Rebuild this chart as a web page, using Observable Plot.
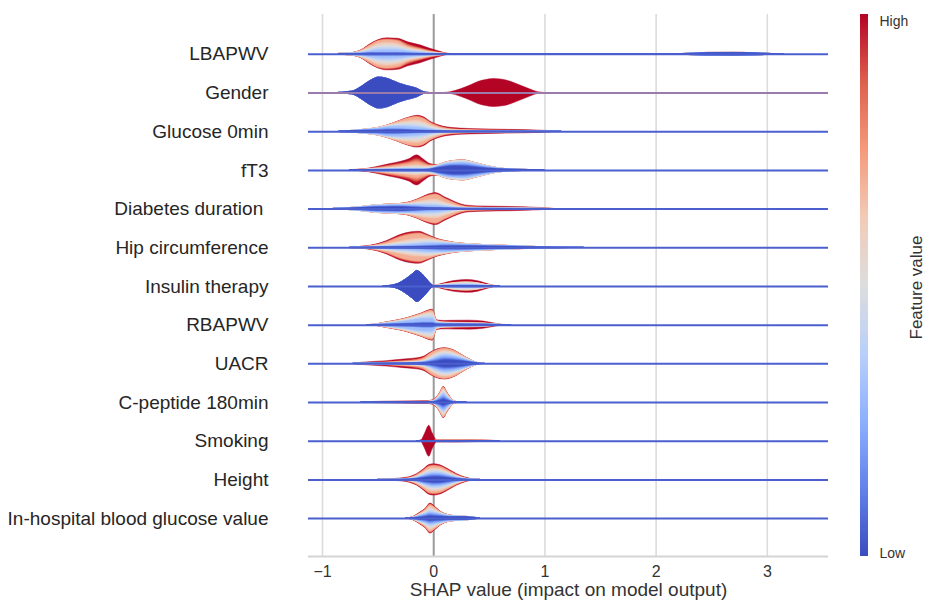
<!DOCTYPE html>
<html><head><meta charset="utf-8">
<script src="https://cdn.jsdelivr.net/npm/d3@7"></script>
<script src="https://cdn.jsdelivr.net/npm/@observablehq/plot@0.6"></script>
<style>
body{margin:0;background:#fff;font-family:"Liberation Sans",Arial,sans-serif;}
#wrap{position:relative;width:925px;height:606px;}
#main{position:absolute;left:0;top:0;}
#cbar{position:absolute;left:850px;top:0;}
</style></head><body><div id="wrap"><div id="main"></div><div id="cbar"></div></div>
<script>
const features = ["LBAPWV","Gender","Glucose 0min","fT3","Diabetes duration ","Hip circumference","Insulin therapy","RBAPWV","UACR","C-peptide 180min","Smoking","Height","In-hospital blood glucose value"];
const xTicks = [-1,0,1,2,3];
// rows: [SHAP value, density of lowest..highest feature-value layer (blue, light blue, neutral, salmon, red)]
const LBAPWV = [[-0.85,0.3,0.2,0,0,0],[-0.75,0.4,0.3,0.2,0.1,0],[-0.65,0.6,1,1,1,0.4],[-0.57,1,2.5,2.5,3,1],[-0.5,1,4,4,4,1],[-0.42,1,4.5,4.5,4.5,1.5],[-0.32,1,4,4,4.5,2],[-0.23,0.8,2.5,2.5,3,3.2],[-0.12,0.5,1.5,1.5,2,3.5],[-0.03,0.3,0.7,0.7,1.3,2.5],[0.06,0.2,0.2,0.3,0.6,1.2],[0.13,0.1,0,0.1,0.1,0.2],[0.25,0,0,0,0,0],[2.15,0,0,0,0,0],[2.3,0.6,0.1,0,0,0],[2.45,1.2,0.2,0,0,0],[2.7,1.3,0.2,0,0,0],[2.9,1,0.1,0,0,0],[3.05,0.3,0,0,0,0],[3.15,0,0,0,0,0]];
const Gender = [[-0.85,0.3,0,0,0,0],[-0.73,1.5,0,0,0,0],[-0.65,6,0,0,0,0],[-0.57,12,0,0,0,0],[-0.49,15.5,0,0,0,0],[-0.41,14,0,0,0,0],[-0.36,11.7,0,0,0,0],[-0.3,9,0,0,0,0],[-0.24,7,0,0,0,0],[-0.15,4.3,0,0,0,0],[-0.09,1,0,0,0,0],[-0.03,0,0,0,0,0],[0.08,0,0,0,0,0],[0.15,0,0,0,0,0.8],[0.25,0,0,0,0,4],[0.33,0,0,0,0,7.5],[0.4,0,0,0,0,11],[0.47,0,0,0,0,13],[0.54,0,0,0,0,14],[0.62,0,0,0,0,13.3],[0.7,0,0,0,0,11],[0.78,0,0,0,0,7.5],[0.87,0,0,0,0,3.5],[0.94,0,0,0,0,0.8],[1.02,0,0,0,0,0]];
const Glucose0 = [[-0.85,0.3,0,0,0,0],[-0.72,0.7,0.2,0,0,0],[-0.6,1.2,0.8,0.2,0,0],[-0.5,1.5,1.5,0.5,0.2,0],[-0.42,2,2.5,1,0.5,0],[-0.34,2,3.5,2,1.5,0.2],[-0.27,1.8,4,3,3,0.5],[-0.2,1.5,4,4,4.5,0.8],[-0.15,1.2,4,4.5,5,1.2],[-0.08,1,3,4,4.5,1.5],[-0.03,0.8,2,3,3,1.2],[0.03,0.6,1,2,2.2,1.2],[0.09,0.5,0.5,1.2,1.5,1.3],[0.17,0.3,0.3,0.7,1,1.4],[0.24,0.3,0.2,0.5,0.8,1.3],[0.4,0.3,0.1,0.3,0.6,1.2],[0.6,0.2,0.1,0.2,0.5,1],[0.85,0.2,0,0.1,0.4,0.8],[1.02,0.1,0,0.1,0.2,0.4],[1.15,0,0,0,0,0]];
const fT3 = [[-0.75,0.2,0,0,0,0.1],[-0.6,0.3,0.2,0.2,0.3,0.5],[-0.5,0.4,0.4,0.6,1,1.2],[-0.4,0.5,0.6,1,2,2],[-0.3,0.6,0.8,1.5,3,2.5],[-0.22,0.6,1,2,4,3.5],[-0.15,0.6,1,2.5,5.5,5.5],[-0.09,0.6,0.8,2,4,3.5],[-0.03,1,0.8,1.5,1.5,1.5],[0.03,2.5,1.2,0.8,0.4,0.3],[0.1,4,2.2,1,0.2,0.1],[0.18,5,2.5,1.5,0.3,0.1],[0.27,5,3,1.5,0.3,0.1],[0.36,4,2.5,1,0.2,0.1],[0.48,2.3,1.5,0.5,0.1,0],[0.58,1.3,0.6,0.2,0,0],[0.7,0.8,0.2,0,0,0],[0.9,0.3,0,0,0,0],[1,0,0,0,0,0]];
const DiabetesDuration = [[-0.9,0.3,0,0,0,0],[-0.78,0.6,0.2,0,0,0],[-0.65,1.2,0.6,0.2,0,0],[-0.52,2,1.2,0.4,0.1,0],[-0.42,2.2,1.5,0.5,0.2,0],[-0.32,2.4,1.6,0.6,0.3,0.1],[-0.24,2.2,1.8,1,0.8,0.3],[-0.15,1.8,2.5,2,2.5,0.6],[-0.06,1.2,3,3.5,5,1.2],[0.02,1,3,4,6.5,1.5],[0.1,0.8,2,3,4.5,1.5],[0.18,0.6,1,1.7,3,1.4],[0.25,0.4,0.4,0.8,1.7,1.3],[0.32,0.3,0.2,0.4,1,1.3],[0.45,0.3,0.1,0.3,0.7,1.2],[0.7,0.2,0.1,0.2,0.5,1.1],[0.95,0.2,0,0.1,0.3,0.6],[1.1,0,0,0,0,0]];
const HipCircumference = [[-0.75,0.2,0,0,0.1,0.1],[-0.6,0.3,0.2,0.2,0.4,0.4],[-0.5,0.5,0.5,0.7,1.2,0.8],[-0.42,0.6,1,1.3,2.5,1.3],[-0.3,0.8,2,2.5,5.5,1.9],[-0.2,1,2.5,3.5,6.5,2],[-0.13,1.2,3,3.5,6.5,1.8],[-0.05,1.5,3.5,3,3.5,1.3],[0.03,1.8,3,2,1.5,0.7],[0.1,2,2.5,1.2,0.8,0.4],[0.18,2,1.8,0.7,0.4,0.2],[0.32,1.8,1.2,0.4,0.1,0.1],[0.5,1.4,0.7,0.3,0.1,0],[0.75,1,0.4,0.1,0,0],[0.95,0.5,0.2,0,0,0],[1.25,0.2,0,0,0,0],[1.35,0,0,0,0,0]];
const InsulinTherapy = [[-0.45,0,0,0,0,0],[-0.38,0.8,0,0,0,0],[-0.32,2.5,0,0,0,0],[-0.25,7,0,0,0,0],[-0.19,12,0,0,0,0],[-0.15,15.5,0,0,0,0],[-0.1,12,0,0,0,0],[-0.06,7,0,0,0,0],[-0.02,2,0,0,0,0],[0,0.5,0,0,0,0],[0.04,0.3,0.2,0.3,0.1,0.6],[0.12,0.5,0.6,1,0.3,1.5],[0.2,0.6,1,1.5,0.5,2],[0.3,0.6,1.2,1.8,0.6,2.2],[0.4,0.5,1,1.3,0.4,2],[0.47,0.3,0.4,0.6,0.2,1.4],[0.54,0.2,0.1,0.1,0,0.4],[0.6,0,0,0,0,0]];
const RBAPWV = [[-0.6,0,0,0,0,0],[-0.52,0.2,0.2,0.1,0.1,0.1],[-0.44,0.5,0.8,0.5,0.4,0.2],[-0.36,0.8,1.5,0.8,0.6,0.3],[-0.27,1.2,2.5,1.2,0.8,0.3],[-0.18,1.5,4,2,1.1,0.4],[-0.1,2,5,3,1.5,0.5],[-0.04,2,5.5,4,2.5,0.8],[-0.01,2,5.5,4,3,1],[0.03,1,1.5,0.8,0.7,0.8],[0.1,0.8,0.8,0.5,0.6,1.5],[0.2,0.8,0.6,0.4,0.6,2],[0.32,0.7,0.5,0.4,0.6,2.3],[0.45,0.6,0.4,0.3,0.5,1.8],[0.55,0.3,0.2,0.1,0.2,0.8],[0.62,0.1,0,0,0,0.2],[0.7,0,0,0,0,0]];
const UACR = [[-0.72,0.2,0,0,0,0.2],[-0.57,0.3,0,0.1,0.3,1],[-0.42,0.4,0.1,0.2,0.6,1.4],[-0.27,0.5,0.3,0.4,1.2,1.9],[-0.15,0.7,0.5,0.7,1.8,1.8],[-0.08,1.2,1,1.3,2.5,1.5],[-0.03,2,2,2.5,3.5,1],[0.03,3.5,3.5,3,3.5,0.8],[0.1,5,4,3,3,0.7],[0.18,4.5,3.5,2.5,2.5,0.5],[0.27,3,2,1.3,1.2,0.2],[0.34,1.5,1,0.5,0.3,0.1],[0.4,0.5,0.2,0.1,0,0],[0.46,0,0,0,0,0]];
const CPeptide180 = [[-0.65,0,0,0,0,0],[-0.57,0.1,0,0,0.1,0.3],[-0.3,0.2,0,0.1,0.2,0.5],[-0.06,0.3,0.1,0.1,0.3,0.6],[0,0.6,0.5,0.3,0.5,0.5],[0.03,1.5,1.5,1,1,0.5],[0.06,3,3,2,1.5,0.5],[0.09,4.5,4.5,3.5,2.5,0.7],[0.12,3,3,2,1.7,0.5],[0.15,1.5,1.5,1,1,0.4],[0.18,0.6,0.4,0.3,0.3,0.2],[0.22,0.3,0,0,0,0],[0.3,0,0,0,0,0]];
const Smoking = [[-0.15,0,0,0,0,0],[-0.11,0,0,0,0,1],[-0.08,0,0,0,0,7],[-0.04,0,0,0,0,15.5],[-0.01,0,0,0,0,8],[0.03,0.2,0,0.2,0.3,0.5],[0.2,0.2,0,0.2,0.4,0.4],[0.4,0.1,0,0.2,0.3,0.2],[0.54,0.1,0,0,0.1,0.1],[0.6,0,0,0,0,0]];
const Height = [[-0.5,0,0,0,0,0],[-0.42,0.1,0,0,0.1,0.3],[-0.3,0.2,0,0.1,0.3,0.8],[-0.21,0.5,0.3,0.4,0.8,1],[-0.15,1.2,1,1,1.5,1],[-0.09,2.5,2.2,2,2.5,1.3],[-0.04,3.5,3.2,3,3.5,1.6],[0,4,3.5,3,3.5,1.7],[0.06,3.8,3.3,2.8,3.2,1.5],[0.12,2.8,2.6,2.2,2.4,1.3],[0.21,1.2,1.2,1,1.3,1],[0.3,0.3,0.2,0.2,0.4,0.8],[0.36,0.1,0,0,0.1,0.3],[0.42,0,0,0,0,0]];
const InHospitalGlucose = [[-0.25,0,0,0,0,0],[-0.19,0.3,0.3,0.2,0.2,0.4],[-0.12,1.5,1.5,1,1.2,0.8],[-0.07,2.5,2.5,2,2,1],[-0.03,3.5,3.5,3.5,3.2,1.3],[0.01,3,3,2.5,2.5,1],[0.06,2.5,2,1.2,1,0.5],[0.1,2,1.3,0.6,0.5,0.3],[0.15,1.6,0.8,0.3,0.2,0.1],[0.25,1.5,0.4,0.1,0,0],[0.35,1,0.2,0,0,0],[0.42,0,0,0,0,0]];

const profiles = [LBAPWV,Gender,Glucose0,fT3,DiabetesDuration,HipCircumference,InsulinTherapy,RBAPWV,UACR,CPeptide180,Smoking,Height,InHospitalGlucose];
const layerT = [0, 0.3, 0.5, 0.7, 1];

const coolwarm = d3.piecewise(d3.interpolateRgb, ["#3b4cc0","#6282ea","#8db0fe","#b9d0f9","#dddddd","#f2cbb7","#f49a7b","#de604d","#b40426"]);
const colorScale = {type:"linear", domain:[0,1], interpolate: coolwarm};

const W=850,H=606,mt=14,mb=50,ml=308,mr=22;
const yDom=[12.98,-1.03];
const rowPx=(H-mt-mb)/(yDom[0]-yDom[1]);

// rendering only: where two neighbouring layers meet, a few intermediate shades soften the boundary
const SUB=4;
const shells=[];
shells.push({t:layerT[0],r:(b,B,a)=>B[1]-a[1]});
for(let k=1;k<5;k++){
  for(let j=1;j<=SUB;j++)shells.push({t:layerT[k-1]+(layerT[k]-layerT[k-1])*(j-0.5)/SUB,r:((k,j)=>(b,B,a)=>B[k]-a[k]+2*a[k]*j/SUB)(k,j)});
  shells.push({t:layerT[k],r:(k=>(b,B,a)=>k<4?B[k+1]-a[k+1]:B[5])(k)});
}
const pts=[];
profiles.forEach((prof,fi)=>{
  prof.forEach(row=>{
    const b=row.slice(1);
    const B=[0];for(let k=0;k<5;k++)B.push(B[k]+b[k]);
    const a=[0];for(let k=1;k<5;k++)a.push(0.5*Math.min(b[k-1],b[k]));
    shells.forEach((sh,si)=>pts.push({fi,si,x:row[0],h:sh.r(b,B,a),t:sh.t}));
  });
});
const shellMarks=d3.range(shells.length).reverse().map(si=>Plot.areaY(pts.filter(d=>d.si===si),{
  x:"x", y1:d=>d.fi-d.h/rowPx, y2:d=>d.fi+d.h/rowPx, z:"fi",
  fill:"t", stroke:"t", strokeWidth:0.5, curve:"monotone-x"}));

const rows=d3.range(features.length);
const main=Plot.plot({
  width:W,height:H,marginTop:mt,marginBottom:mb,marginLeft:ml,marginRight:mr,
  style:{fontFamily:"'Liberation Sans',Arial,sans-serif",color:"#333",background:"#fff"},
  x:{domain:[-1.126,3.55]},
  y:{domain:yDom},
  color:colorScale,
  marks:[
    Plot.ruleX(xTicks.filter(v=>v!==0),{stroke:"#dcdcdc",strokeWidth:1.6}),
    Plot.ruleX([0],{stroke:"#9a9a9a",strokeWidth:2}),
    Plot.ruleY([yDom[0]],{stroke:"#d4d4d4",strokeWidth:2}),
    ...shellMarks,
    Plot.ruleY(rows.filter(i=>features[i]!=="Gender"),{y:d=>d,stroke:"#4b5fce",strokeWidth:2}),
    Plot.ruleY(rows.filter(i=>features[i]==="Gender"),{y:d=>d,stroke:"#9b7bab",strokeWidth:2}),
    Plot.axisY(rows,{tickFormat:i=>features[i],tickSize:0,tickPadding:40,fontSize:19,label:null,fill:"#262626"}),
    Plot.axisX(xTicks,{tickSize:0,tickPadding:9,fontSize:16,label:null,fill:"#333"}),
    Plot.text(["SHAP value (impact on model output)"],{text:d=>d,frameAnchor:"bottom",dy:39,fontSize:19,fill:"#333"})
  ]
});
document.getElementById("main").appendChild(main);

const ramp=d3.range(0,1,0.005);
const cbar=Plot.plot({
  width:75,height:H,marginTop:mt,marginBottom:mb,marginLeft:10,marginRight:57,
  style:{fontFamily:"'Liberation Sans',Arial,sans-serif",color:"#333",background:"transparent",overflow:"visible"},
  x:{domain:[0,1],axis:null},
  y:{domain:[0,1],axis:null},
  color:colorScale,
  marks:[
    Plot.rect(ramp,{x1:0,x2:1,y1:d=>d,y2:d=>Math.min(1,d+0.007),fill:d=>d+0.0025,shapeRendering:"crispEdges"}),
    Plot.text(["High"],{text:d=>d,frameAnchor:"top-right",dx:11,dy:2,textAnchor:"start",fontSize:14,fill:"#333"}),
    Plot.text(["Low"],{text:d=>d,frameAnchor:"bottom-right",dx:11,dy:1,textAnchor:"start",fontSize:14,fill:"#333"}),
    Plot.text(["Feature value"],{text:d=>d,frameAnchor:"right",dx:48,dy:2,rotate:-90,textAnchor:"middle",fontSize:17,fill:"#333"})
  ]
});
document.getElementById("cbar").appendChild(cbar);
</script></body></html>
